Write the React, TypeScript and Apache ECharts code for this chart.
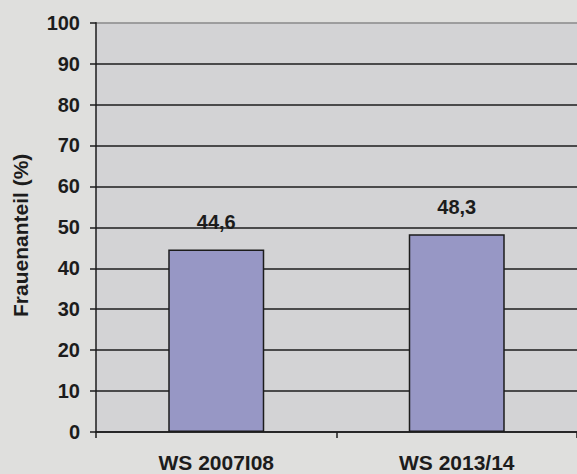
import React, { useEffect, useRef } from "react";
import * as echarts from "echarts";

const categories = ["WS 2007I08", "WS 2013/14"];
const values = [44.6, 48.3];
const valueLabels = ["44,6", "48,3"];
const yTicks = [0, 10, 20, 30, 40, 50, 60, 70, 80, 90, 100];
const yAxisTitle = "Frauenanteil (%)";

const FONT = "'Liberation Sans', Arial, sans-serif";

export default function App() {
  const ref = useRef<HTMLDivElement>(null);
  useEffect(() => {
    document.body.style.margin = "0";
    const chart = echarts.init(ref.current!, null, { renderer: "svg" });
    const splitColors = yTicks.map((t, i) => (i === yTicks.length - 1 ? "#8a8a8a" : "#1c1c1c"));
    chart.setOption({
      animation: false,
      backgroundColor: "#dfdfdd",
      grid: {
        left: 96,
        width: 484.6,
        top: 22.7,
        bottom: 42,
        show: true,
        backgroundColor: "#d3d3d5",
        borderWidth: 0,
      },
      xAxis: {
        type: "category",
        data: categories,
        axisLine: { show: true, lineStyle: { color: "#1c1c1c", width: 1.5 } },
        axisTick: { show: true, length: 6, lineStyle: { color: "#1c1c1c", width: 1.5 } },
        axisLabel: {
          margin: 20,
          fontFamily: FONT,
          fontWeight: "bold",
          fontSize: 21,
          color: "#1c1c1c",
        },
      },
      yAxis: {
        type: "value",
        min: 0,
        max: 100,
        interval: 10,
        name: yAxisTitle,
        nameLocation: "middle",
        nameGap: 65,
        nameTextStyle: {
          fontFamily: FONT,
          fontWeight: "bold",
          fontSize: 21,
          color: "#1c1c1c",
          padding: [0, 16, 0, 0],
        },
        axisLine: { show: true, lineStyle: { color: "#1c1c1c", width: 1.5 } },
        axisTick: { show: true, length: 6, lineStyle: { color: "#1c1c1c", width: 1.5 } },
        axisLabel: {
          margin: 16,
          fontFamily: FONT,
          fontWeight: "bold",
          fontSize: 20,
          color: "#1c1c1c",
        },
        splitLine: { show: true, lineStyle: { color: splitColors, width: 1.5 } },
      },
      series: [
        {
          type: "bar",
          data: values,
          barWidth: 96,
          itemStyle: { color: "#9797c5", borderColor: "#1c1c1c", borderWidth: 1.5 },
          label: {
            show: true,
            position: "top",
            distance: 17,
            formatter: (p: any) => valueLabels[p.dataIndex],
            fontFamily: FONT,
            fontWeight: "bold",
            fontSize: 20,
            color: "#1c1c1c",
          },
        },
      ],
    });
    return () => chart.dispose();
  }, []);
  return <div ref={ref} style={{ position: "fixed", left: 0, top: 0, width: 577, height: 474 }} />;
}
